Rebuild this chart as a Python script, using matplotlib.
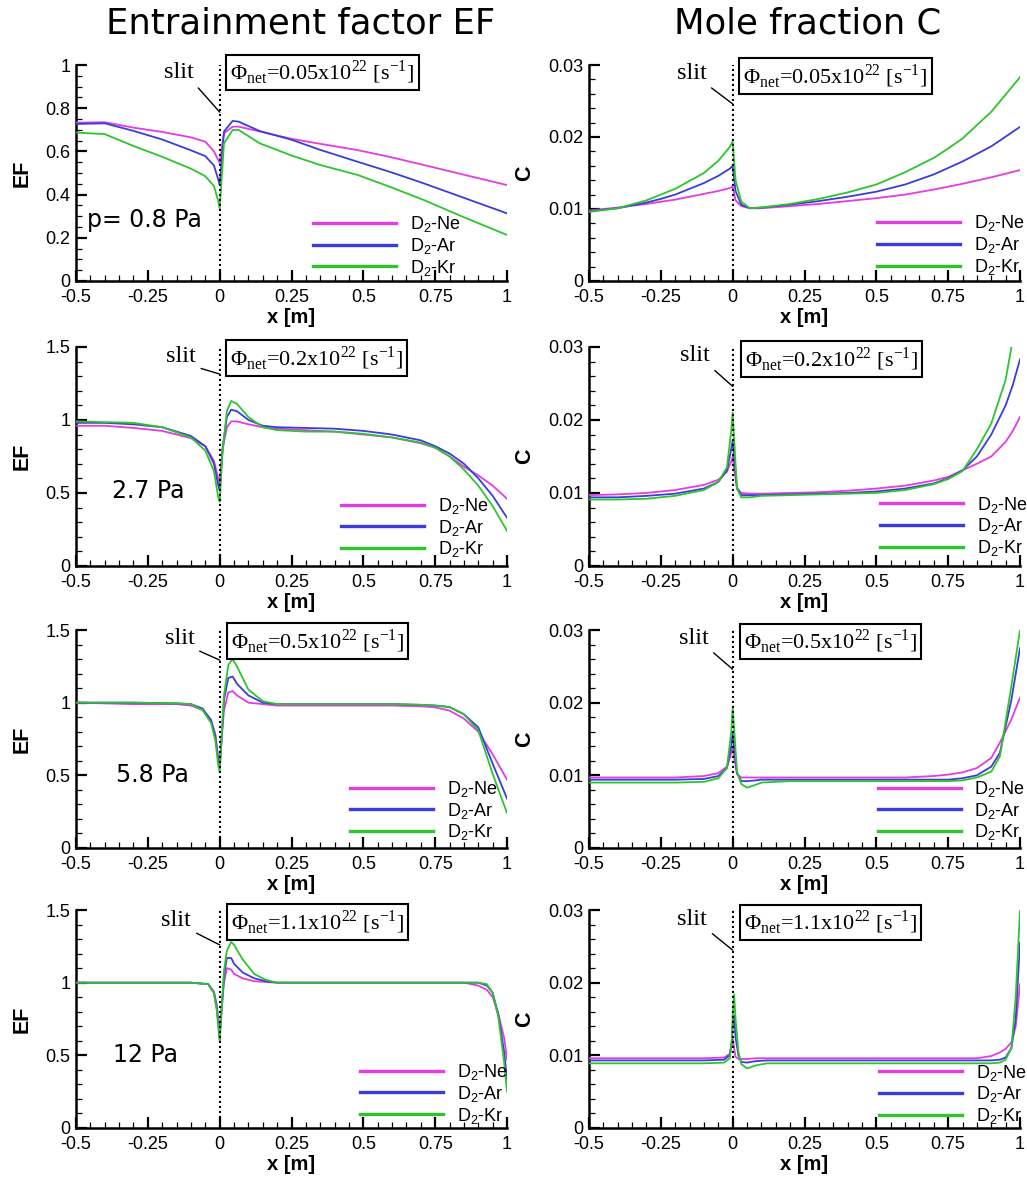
import matplotlib
matplotlib.use("Agg")
import matplotlib.pyplot as plt
from matplotlib.ticker import MultipleLocator, FixedLocator, FixedFormatter

# gas mixtures and line colours
gases = ["D$_\\mathregular{2}$-Ne", "D$_\\mathregular{2}$-Ar", "D$_\\mathregular{2}$-Kr"]
colors = ["#e23ce2", "#3c3cdc", "#2ec42e"]

pressures = ["p= 0.8 Pa", "2.7 Pa", "5.8 Pa", "12 Pa"]
fluxes = ["0.05", "0.2", "0.5", "1.1"]

x_ticks = [-0.5, -0.25, 0, 0.25, 0.5, 0.75, 1]
x_tick_labels = ["-0.5", "-0.25", "0", "0.25", "0.5", "0.75", "1"]
ef_ticks_top = [0, 0.2, 0.4, 0.6, 0.8, 1.0]
ef_tick_labels_top = ["0", "0.2", "0.4", "0.6", "0.8", "1"]
ef_ticks = [0, 0.5, 1.0, 1.5]
ef_tick_labels = ["0", "0.5", "1", "1.5"]
c_ticks = [0, 0.01, 0.02, 0.03]
c_tick_labels = ["0", "0.01", "0.02", "0.03"]

# ---- p = 0.8 Pa ----
x_ef1 = [-0.5, -0.4, -0.3, -0.2, -0.1, -0.05, -0.02, -0.005, 0.0, 0.015, 0.045,
         0.065, 0.14, 0.25, 0.35, 0.48, 0.6, 0.71, 0.85, 1.0]
ef1_ne = [0.733, 0.735, 0.71, 0.69, 0.665, 0.645, 0.6, 0.56, 0.546, 0.684, 0.714,
          0.715, 0.692, 0.658, 0.635, 0.606, 0.572, 0.537, 0.492, 0.444]
ef1_ar = [0.727, 0.73, 0.695, 0.655, 0.605, 0.578, 0.535, 0.47, 0.444, 0.692, 0.741,
          0.738, 0.694, 0.654, 0.607, 0.552, 0.502, 0.452, 0.385, 0.313]
ef1_kr = [0.687, 0.68, 0.625, 0.575, 0.52, 0.485, 0.44, 0.37, 0.336, 0.637, 0.699,
          0.70, 0.637, 0.581, 0.537, 0.491, 0.432, 0.375, 0.295, 0.213]

x_c1 = [-0.5, -0.4, -0.3, -0.25, -0.2, -0.1, -0.05, -0.01, 0.0, 0.01, 0.03, 0.06,
        0.1, 0.2, 0.3, 0.4, 0.5, 0.6, 0.7, 0.75, 0.8, 0.9, 1.0]
c1_ne = [0.0098, 0.0102, 0.0107, 0.0110, 0.0113, 0.0121, 0.0125, 0.0129, 0.0131,
         0.0112, 0.0104, 0.0101, 0.0101, 0.0104, 0.0107, 0.0111, 0.0115, 0.0120,
         0.0127, 0.0131, 0.0135, 0.0144, 0.0154]
c1_ar = [0.0097, 0.0101, 0.0109, 0.0114, 0.0120, 0.0136, 0.0146, 0.0156, 0.0160,
         0.0125, 0.0106, 0.0101, 0.0102, 0.0106, 0.0111, 0.0117, 0.0124, 0.0134,
         0.0148, 0.0157, 0.0166, 0.0187, 0.0214]
c1_kr = [0.0096, 0.0101, 0.0112, 0.0120, 0.0128, 0.0150, 0.0167, 0.0186, 0.0194,
         0.0140, 0.0110, 0.0101, 0.0102, 0.0107, 0.0114, 0.0123, 0.0134, 0.0151,
         0.0171, 0.0184, 0.0198, 0.0235, 0.0283]

# ---- p = 2.7 Pa ----
x_ef2 = [-0.5, -0.4, -0.3, -0.2, -0.1, -0.05, -0.02, -0.005, 0.0, 0.01, 0.025, 0.04,
         0.06, 0.1, 0.15, 0.2, 0.3, 0.4, 0.5, 0.6, 0.7, 0.75, 0.8, 0.85, 0.9, 0.95, 1.0]
ef2_ne = [0.96, 0.96, 0.945, 0.925, 0.875, 0.82, 0.72, 0.6, 0.56, 0.8, 0.95, 0.99,
          0.99, 0.97, 0.95, 0.94, 0.93, 0.92, 0.90, 0.88, 0.84, 0.81, 0.75, 0.68,
          0.62, 0.55, 0.46]
ef2_ar = [0.98, 0.98, 0.97, 0.95, 0.89, 0.82, 0.70, 0.55, 0.52, 0.80, 1.02, 1.07,
          1.06, 1.00, 0.96, 0.95, 0.945, 0.94, 0.925, 0.90, 0.86, 0.82, 0.77, 0.70,
          0.60, 0.48, 0.33]
ef2_kr = [0.99, 0.985, 0.98, 0.95, 0.88, 0.79, 0.65, 0.47, 0.44, 0.78, 1.06, 1.13,
          1.11, 1.02, 0.95, 0.93, 0.92, 0.92, 0.905, 0.88, 0.845, 0.81, 0.75, 0.66,
          0.55, 0.41, 0.24]

x_c2 = [-0.5, -0.4, -0.3, -0.2, -0.1, -0.05, -0.02, -0.005, 0.0, 0.005, 0.015, 0.03,
        0.06, 0.1, 0.2, 0.3, 0.4, 0.5, 0.6, 0.7, 0.75, 0.8, 0.85, 0.9, 0.95, 0.975, 1.0]
c2_ne = [0.0097, 0.0098, 0.0100, 0.0104, 0.0111, 0.0118, 0.0129, 0.0143, 0.0150,
         0.0133, 0.0107, 0.0100, 0.0099, 0.0099, 0.0100, 0.0101, 0.0103, 0.0106,
         0.0110, 0.0117, 0.0122, 0.0131, 0.0140, 0.0150, 0.0170, 0.0185, 0.0204]
c2_ar = [0.0094, 0.0094, 0.0096, 0.0099, 0.0106, 0.0115, 0.0131, 0.0160, 0.0172,
         0.0150, 0.0106, 0.0097, 0.0097, 0.0097, 0.0098, 0.0099, 0.0100, 0.0102,
         0.0106, 0.0113, 0.0120, 0.0131, 0.0150, 0.0180, 0.0220, 0.0248, 0.0283]
c2_kr = [0.0091, 0.0091, 0.0092, 0.0096, 0.0104, 0.0115, 0.0135, 0.0185, 0.0210,
         0.0175, 0.0106, 0.0094, 0.0094, 0.0096, 0.0097, 0.0098, 0.0099, 0.0100,
         0.0104, 0.0112, 0.0119, 0.0130, 0.0160, 0.0195, 0.0255, 0.0310, 0.0370]

# ---- p = 5.8 Pa ----
x_ef3 = [-0.5, -0.3, -0.15, -0.1, -0.06, -0.03, -0.015, -0.005, 0.0, 0.005, 0.015,
         0.03, 0.045, 0.06, 0.1, 0.15, 0.2, 0.4, 0.6, 0.7, 0.75, 0.8, 0.85, 0.9, 0.95, 1.0]
ef3_ne = [1.0, 0.99, 0.99, 0.98, 0.95, 0.88, 0.78, 0.62, 0.58, 0.70, 0.95, 1.07,
          1.08, 1.05, 1.0, 0.99, 0.98, 0.98, 0.98, 0.975, 0.968, 0.945, 0.89, 0.80,
          0.645, 0.47]
ef3_ar = [1.0, 1.0, 0.995, 0.99, 0.96, 0.88, 0.77, 0.60, 0.55, 0.70, 1.02, 1.17,
          1.18, 1.13, 1.05, 1.0, 0.99, 0.99, 0.99, 0.985, 0.98, 0.97, 0.92, 0.83,
          0.58, 0.34]
ef3_kr = [1.0, 1.0, 0.995, 0.99, 0.95, 0.86, 0.74, 0.57, 0.52, 0.70, 1.05, 1.26,
          1.30, 1.25, 1.09, 1.01, 0.99, 0.99, 0.99, 0.985, 0.98, 0.97, 0.92, 0.81,
          0.51, 0.24]

x_c3 = [-0.5, -0.2, -0.1, -0.05, -0.02, -0.005, 0.0, 0.005, 0.015, 0.03, 0.05, 0.08,
        0.1, 0.2, 0.6, 0.7, 0.75, 0.8, 0.85, 0.9, 0.93, 0.97, 1.0]
c3_ne = [0.0097, 0.0097, 0.0099, 0.0103, 0.0112, 0.0130, 0.0140, 0.0125, 0.0102,
         0.0097, 0.0097, 0.0097, 0.0097, 0.0097, 0.0097, 0.0099, 0.0101, 0.0104,
         0.0110, 0.0124, 0.0145, 0.0177, 0.0207]
c3_ar = [0.0094, 0.0094, 0.0095, 0.0099, 0.0110, 0.0140, 0.0158, 0.0140, 0.0103,
         0.0092, 0.0092, 0.0093, 0.0094, 0.0094, 0.0094, 0.0094, 0.0094, 0.0096,
         0.0100, 0.0112, 0.0131, 0.0204, 0.0275]
c3_kr = [0.0090, 0.0090, 0.0091, 0.0096, 0.0110, 0.0160, 0.0192, 0.0165, 0.0105,
         0.0088, 0.0083, 0.0087, 0.0090, 0.0092, 0.0092, 0.0092, 0.0092, 0.0093,
         0.0097, 0.0105, 0.0126, 0.0223, 0.0300]

# ---- p = 12 Pa ----
x_ef4 = [-0.5, -0.1, -0.04, -0.02, -0.01, -0.003, 0.0, 0.005, 0.015, 0.025, 0.04,
         0.05, 0.08, 0.12, 0.16, 0.2, 0.85, 0.9, 0.93, 0.95, 0.97, 0.99, 1.0]
ef4_ne = [1.0, 1.0, 0.99, 0.94, 0.85, 0.72, 0.65, 0.78, 1.00, 1.10, 1.09, 1.06,
          1.03, 1.01, 1.005, 1.0, 1.0, 0.98, 0.95, 0.90, 0.78, 0.62, 0.47]
ef4_ar = [1.0, 1.0, 0.99, 0.93, 0.82, 0.68, 0.62, 0.76, 1.05, 1.17, 1.17, 1.13,
          1.07, 1.03, 1.01, 1.0, 1.0, 1.0, 0.98, 0.93, 0.78, 0.52, 0.34]
ef4_kr = [1.0, 1.0, 0.99, 0.93, 0.81, 0.66, 0.60, 0.75, 1.08, 1.22, 1.28, 1.26,
          1.16, 1.06, 1.02, 1.0, 1.0, 1.0, 0.99, 0.93, 0.76, 0.45, 0.25]

x_c4 = [-0.5, -0.1, -0.03, -0.01, -0.003, 0.0, 0.005, 0.01, 0.02, 0.03, 0.05, 0.08,
        0.12, 0.2, 0.85, 0.9, 0.93, 0.95, 0.97, 0.985, 1.0]
c4_ne = [0.0096, 0.0096, 0.0097, 0.0102, 0.0115, 0.0125, 0.0110, 0.0098, 0.0095,
         0.0095, 0.0095, 0.0096, 0.0096, 0.0096, 0.0096, 0.0099, 0.0104, 0.0109,
         0.0118, 0.0140, 0.0198]
c4_ar = [0.0093, 0.0093, 0.0094, 0.0100, 0.0120, 0.0140, 0.0155, 0.0125, 0.0100,
         0.0091, 0.0090, 0.0092, 0.0093, 0.0093, 0.0093, 0.0093, 0.0094, 0.0097,
         0.0110, 0.0150, 0.0255]
c4_kr = [0.0089, 0.0089, 0.0090, 0.0096, 0.0120, 0.0155, 0.0184, 0.0150, 0.0105,
         0.0088, 0.0082, 0.0086, 0.0089, 0.0089, 0.0089, 0.0089, 0.0090, 0.0094,
         0.0110, 0.0180, 0.0300]

ef_rows = [(x_ef1, ef1_ne, ef1_ar, ef1_kr), (x_ef2, ef2_ne, ef2_ar, ef2_kr),
           (x_ef3, ef3_ne, ef3_ar, ef3_kr), (x_ef4, ef4_ne, ef4_ar, ef4_kr)]
c_rows = [(x_c1, c1_ne, c1_ar, c1_kr), (x_c2, c2_ne, c2_ar, c2_kr),
          (x_c3, c3_ne, c3_ar, c3_kr), (x_c4, c4_ne, c4_ar, c4_kr)]

SANS = ["Liberation Sans", "DejaVu Sans"]
SERIF = ["Liberation Serif", "DejaVu Serif"]
plt.rcParams["font.family"] = SANS

# axes rectangles (left, bottom, width, height) in figure fractions
row_boxes = [(0.7623, 0.1827), (0.5212, 0.1853), (0.2826, 0.1844), (0.0457, 0.1844)]
col_left = [0.074, 0.5735]
col_width = 0.4197

# per-panel placement of the slit label, slit pointer end and legend corner
slit_text = [[(0.239, 0.965), (0.238, 0.96)], [(0.243, 0.957), (0.246, 0.96)],
             [(0.24, 0.962), (0.243, 0.963)], [(0.233, 0.954), (0.24, 0.958)]]
slit_end = [[0.782, 0.82], [0.876, 0.82], [0.862, 0.82], [0.84, 0.816]]
flux_pos = [[(0.572, 0.965), (0.572, 0.95)], [(0.557, 0.95), (0.563, 0.945)],
            [(0.561, 0.95), (0.56, 0.947)], [(0.561, 0.944), (0.56, 0.943)]]
legend_pos = [[(0.55, 0.31), (0.668, 0.313)], [(0.615, 0.32), (0.675, 0.326)],
              [(0.636, 0.317), (0.67, 0.317)], [(0.659, 0.303), (0.673, 0.30)]]
pressure_pos = [(0.026, 0.28), (0.084, 0.34), (0.093, 0.335), (0.086, 0.335)]


def style_axes(ax, yticks, ylabels, yminor, ylabel, ylabel_x):
    for side in ["top", "right"]:
        ax.spines[side].set_visible(False)
    for side in ["left", "bottom"]:
        ax.spines[side].set_linewidth(1.8)
    ax.set_xlim(-0.5, 1.0)
    ax.set_ylim(yticks[0], yticks[-1])
    ax.xaxis.set_major_locator(FixedLocator(x_ticks))
    ax.xaxis.set_major_formatter(FixedFormatter(x_tick_labels))
    ax.xaxis.set_minor_locator(MultipleLocator(0.05))
    ax.yaxis.set_major_locator(FixedLocator(yticks))
    ax.yaxis.set_major_formatter(FixedFormatter(ylabels))
    ax.yaxis.set_minor_locator(MultipleLocator(yminor))
    ax.tick_params(which="both", direction="in", top=False, right=False,
                   labelsize=13)
    ax.tick_params(which="major", length=8, width=1.6)
    ax.tick_params(which="minor", length=4, width=0.9)
    ax.tick_params(axis="x", pad=6)
    ax.tick_params(axis="y", pad=4)
    ax.set_xlabel("x [m]", fontsize=14.5, fontweight="bold")
    ax.xaxis.set_label_coords(0.5, -0.125)
    ax.set_ylabel(ylabel, fontsize=15.5, fontweight="bold")
    ax.yaxis.set_label_coords(ylabel_x, 0.5)


def draw_panel(ax, data, row, col):
    x = data[0]
    for vals, name, color in zip(data[1:], gases, colors):
        ax.plot(x, vals, color=color, lw=1.3, label=name, zorder=3)
    ax.axvline(0, color="black", ls=(0, (1, 1.4)), lw=1.5, zorder=4)
    ax.annotate("slit", xy=(0, slit_end[row][col]),
                xycoords=("data", "axes fraction"),
                xytext=slit_text[row][col], textcoords="axes fraction",
                ha="center", va="center", fontsize=17.5, family=SERIF,
                arrowprops=dict(arrowstyle="-", color="black", lw=1.0,
                                shrinkA=2, shrinkB=0, relpos=(1.0, 0.0)))
    label = "Φ$_\\mathregular{net}$=" + fluxes[row] + \
        "x10$^\\mathregular{22}$ [s$^\\mathregular{-1}$]"
    ax.text(*flux_pos[row][col], label, transform=ax.transAxes,
            ha="center", va="center", fontsize=16, family=SERIF, zorder=5,
            clip_on=False,
            bbox=dict(boxstyle="square,pad=0.18", fc="white", ec="black", lw=1.5))
    leg = ax.legend(loc="upper left", bbox_to_anchor=legend_pos[row][col],
                    frameon=False, fontsize=13, handlelength=4.6,
                    handletextpad=0.75, labelspacing=0.1, borderpad=0,
                    borderaxespad=0)
    for line in leg.get_lines():
        line.set_linewidth(2.4)


fig = plt.figure(figsize=(10.27, 11.82), dpi=100)

for r in range(4):
    bottom, height = row_boxes[r]
    ax_ef = fig.add_axes([col_left[0], bottom, col_width, height])
    if r == 0:
        style_axes(ax_ef, ef_ticks_top, ef_tick_labels_top, 0.05, "EF", -0.10)
    else:
        style_axes(ax_ef, ef_ticks, ef_tick_labels, 0.1, "EF", -0.10)
    draw_panel(ax_ef, ef_rows[r], r, 0)
    ax_ef.text(*pressure_pos[r], pressures[r], transform=ax_ef.transAxes,
               ha="left", va="center", fontsize=17, family="DejaVu Sans")

    ax_c = fig.add_axes([col_left[1], bottom, col_width, height])
    style_axes(ax_c, c_ticks, c_tick_labels, 0.002, "C", -0.125)
    draw_panel(ax_c, c_rows[r], r, 1)

fig.text(0.293, 0.9805, "Entrainment factor EF", ha="center", va="center",
         fontsize=25.5, family="DejaVu Sans")
fig.text(0.786, 0.9805, "Mole fraction C", ha="center", va="center",
         fontsize=25.5, family="DejaVu Sans")

fig.savefig("out.png", dpi=100)
